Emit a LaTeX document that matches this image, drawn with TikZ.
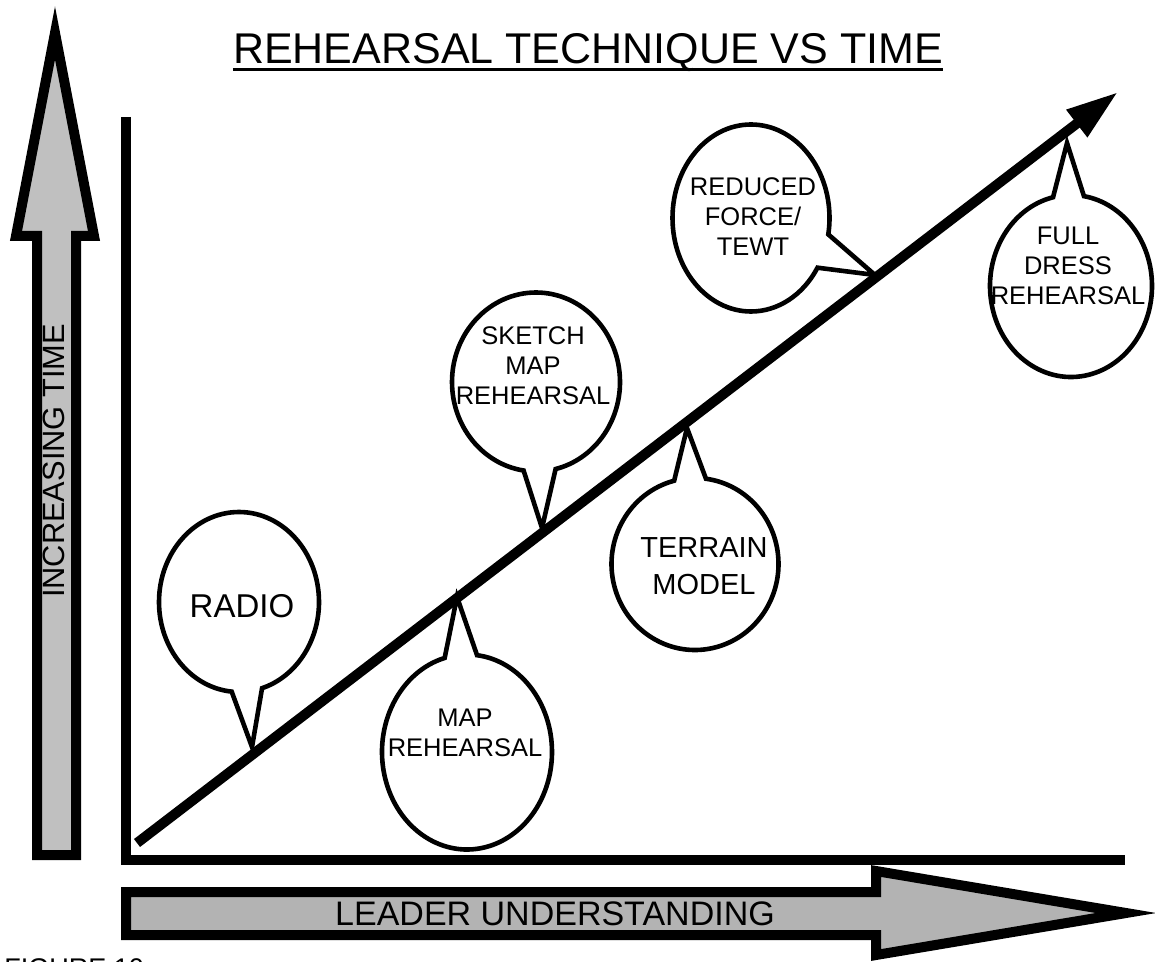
\documentclass[tikz,border=0pt]{standalone}
\usepackage{fontspec}
\setmainfont{Liberation Sans}
\usetikzlibrary{arrows.meta,shapes.callouts}
\tikzset{>=latex}
\definecolor{timeColour}{RGB}{192,192,192}
\definecolor{leaderColour}{RGB}{179,179,179}
\tikzset{
	bigArrow/.style={draw=black, line width=5pt, miter limit=10},
	bubble/.style={ellipse callout, draw=black, fill=white, line width=2.3pt, inner sep=0pt, callout pointer arc=22},
	bubbleText/.style={align=center, inner sep=0pt, font=\fontsize{12.75}{15}\selectfont},
}

\begin{document}
\begin{tikzpicture}[x=0.5pt, y=-0.5pt]
		\useasboundingbox (0,0) rectangle (1155,962);

		% the title
		\node[anchor=base, inner sep=0pt, font=\fontsize{21.5}{25}\selectfont] (title) at (588,64) {REHEARSAL TECHNIQUE VS TIME};
		\draw[line width=1.5pt] ([yshift=-3pt]title.base west) -- ([yshift=-3pt]title.base east);

		% the time arrow
		\draw[bigArrow, fill=timeColour] (37,855) -- (37,236) -- (16,236) -- (55,33) -- (94,236) -- (76,236) -- (76,855) -- cycle;
		\node[rotate=90, inner sep=0pt, font=\fontsize{15.4}{18}\selectfont] (time) at (54,461) {INCREASING TIME};

		% the understanding arrow
		\draw[bigArrow, fill=leaderColour] (126,892) -- (876,892) -- (876,871) -- (1126,913) -- (876,955) -- (876,935) -- (126,935) -- cycle;
		\node[inner sep=0pt, font=\fontsize{17}{20}\selectfont] (leader) at (555,914) {LEADER UNDERSTANDING};

		% the axes
		\draw[line width=5pt] (126,117) -- (126,860) -- (1125,860);

		% the figure number, cut off by the page
		\node[anchor=base west, inner sep=0pt, font=\fontsize{13.5}{16}\selectfont] (figure) at (4,977) {FIGURE 10};

		% where the bubbles point
		\coordinate (lineStart) at (137,843);
		\coordinate (lineEnd) at (1118,92);
		\coordinate (radio tip) at (252,747);
		\coordinate (map tip) at (457,597);
		\coordinate (sketch tip) at (542,528);
		\coordinate (terrain tip) at (687,428);
		\coordinate (reduced tip) at (875,275);
		\coordinate (full tip) at (1067,143);

		% the bubbles
		\node[bubble, minimum width=80pt, minimum height=90pt, callout absolute pointer={(radio tip)}] (radio) at (239,602) {};
		\node[bubbleText, font=\fontsize{16.5}{20}\selectfont] (radio text) at ([shift={(3,4)}]radio.center) {RADIO};

		\node[bubble, minimum width=85pt, minimum height=97.5pt, callout absolute pointer={(map tip)}] (map) at (467,752) {};
		\node[bubbleText] (map text) at ([shift={(-2,-19)}]map.center) {MAP\\REHEARSAL};

		\node[bubble, minimum width=84pt, minimum height=89.5pt, callout absolute pointer={(sketch tip)}] (sketch) at (536,382) {};
		\node[bubbleText] (sketch text) at ([shift={(-3,-16)}]sketch.center) {SKETCH\\MAP\\REHEARSAL};

		\node[bubble, minimum width=83.5pt, minimum height=86pt, callout absolute pointer={(terrain tip)}] (terrain) at (695,564) {};
		\node[bubbleText, font=\fontsize{14.5}{18.5}\selectfont] (terrain text) at ([shift={(9,2)}]terrain.center) {TERRAIN\\MODEL};

		\node[bubble, minimum width=78.5pt, minimum height=93.5pt, callout absolute pointer={(reduced tip)}] (reduced) at (751,218) {};
		\node[bubbleText] (reduced text) at ([shift={(2,-1)}]reduced.center) {REDUCED\\FORCE/\\TEWT};

		\node[bubble, minimum width=81pt, minimum height=91pt, callout absolute pointer={(full tip)}] (full) at (1071,286) {};
		\node[bubbleText] (full text) at ([shift={(-3,-20)}]full.center) {FULL\\DRESS\\REHEARSAL};

		% the technique line
		\draw[line width=5pt, -{Triangle[length=26pt, width=16pt]}] (lineStart) -- (lineEnd);
	\end{tikzpicture}
\end{document}
